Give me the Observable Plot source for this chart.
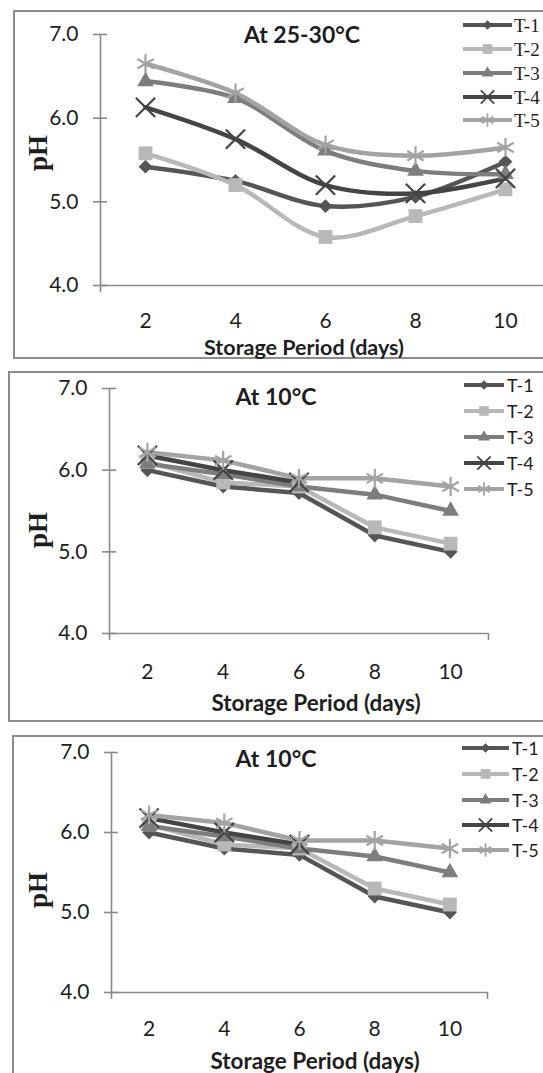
<!DOCTYPE html>
<html><head><meta charset="utf-8">
<script src="https://cdn.jsdelivr.net/npm/d3@7"></script>
<script src="https://cdn.jsdelivr.net/npm/@observablehq/plot@0.6"></script>
<style>
html,body{margin:0;padding:0;background:#fff;}
#page{position:relative;width:543px;height:1073px;overflow:hidden;background:#fff;}
.box{position:absolute;border:2px solid #8c8c8c;box-sizing:border-box;}
</style></head>
<body><div id="page"></div>
<script>
// ---------- data ----------
const days = [2, 4, 6, 8, 10];
const seriesNames = ["T-1", "T-2", "T-3", "T-4", "T-5"];
const yTicks = [4, 5, 6, 7];
const panelTitles = ["At 25-30°C", "At 10°C", "At 10°C"];
const xTitle = "Storage Period (days)";
const yTitle = "pH";

// At 25-30°C
const warmT1 = [5.42, 5.25, 4.95, 5.06, 5.48];
const warmT2 = [5.58, 5.20, 4.58, 4.83, 5.15];
const warmT3 = [6.44, 6.24, 5.61, 5.37, 5.33];
const warmT4 = [6.13, 5.75, 5.20, 5.10, 5.28];
const warmT5 = [6.65, 6.30, 5.68, 5.55, 5.65];
// At 10°C
const coldT1 = [6.00, 5.80, 5.72, 5.20, 5.00];
const coldT2 = [6.10, 5.85, 5.80, 5.30, 5.10];
const coldT3 = [6.08, 5.95, 5.80, 5.70, 5.50];
const coldT4 = [6.18, 6.00, 5.85, null, null];
const coldT5 = [6.22, 6.12, 5.90, 5.90, 5.80];

// ---------- styles ----------
const colors = ["#555555", "#b8b8b8", "#7d7d7d", "#444444", "#a3a3a3"];
const symbols = ["diamond2", "square", "triangle", "times", "asterisk"];
const filled = [true, true, true, false, false];
const radii = [6.2, 7.8, 6.2, 8.8, 9.0];
const axisColor = "#8a8a8a";
const textColor = "#1e1e1e";
const sansFont = "Lato, 'Open Sans', sans-serif";
const serifFont = "'Liberation Serif', 'DejaVu Serif', serif";

const panels = [
  {values: [warmT1, warmT2, warmT3, warmT4, warmT5], curve: "catmull-rom",
   top: 0, width: 600, marginLeft: 100, marginRight: 50, marginTop: 34, height: 355, marginBottom: 70,
   box: [13, 10, 600, 349], title: [302, 34], xt: [304, 347], xtSize: 21.5, yt: [38, 153], tickPad: 28,
   leg: {x0: 463, x1: 512, tx: 514, ys: [25, 49, 73, 97, 120], font: serifFont, size: 19}},
  {values: [coldT1, coldT2, coldT3, coldT4, coldT5], curve: "linear",
   top: 371, width: 543, marginLeft: 109, marginRight: 55, marginTop: 17, height: 347, marginBottom: 85,
   box: [8, 371, 600, 351], title: [276, 396], xt: [316, 702], xtSize: 22.5, yt: [38, 530], tickPad: 31,
   leg: {x0: 464, x1: 504, tx: 507, ys: [385, 411, 437, 463, 489], font: sansFont, size: 18}},
  {values: [coldT1, coldT2, coldT3, coldT4, coldT5], curve: "linear",
   top: 735, width: 543, marginLeft: 111, marginRight: 56, marginTop: 17, height: 338, marginBottom: 81,
   box: [12, 735, 600, 400], title: [276, 758], xt: [315, 1060], xtSize: 22.5, yt: [38, 890], tickPad: 29,
   leg: {x0: 462, x1: 509, tx: 512, ys: [748, 774, 800, 825, 850], font: sansFont, size: 18}}
];

const page = document.getElementById("page");

panels.forEach((p) => {
  const box = document.createElement("div");
  box.className = "box";
  box.style.left = p.box[0] + "px"; box.style.top = p.box[1] + "px";
  box.style.width = p.box[2] + "px"; box.style.height = p.box[3] + "px";
  page.appendChild(box);
});

panels.forEach((p, pi) => {
  const rows = [];
  seriesNames.forEach((s, i) => days.forEach((d, j) => rows.push({series: s, day: d, ph: p.values[i][j]})));
  const dotMarks = seriesNames.map((s, i) => Plot.dot(rows.filter(r => r.series === s && r.ph != null), {
    x: "day", y: "ph", symbol: symbols[i], r: radii[i],
    fill: filled[i] ? colors[i] : "none",
    stroke: filled[i] ? "none" : colors[i], strokeWidth: 2.2
  }));
  const chart = Plot.plot({
    width: p.width, height: p.height,
    marginLeft: p.marginLeft, marginRight: p.marginRight, marginTop: p.marginTop, marginBottom: p.marginBottom,
    style: {background: "transparent", fontFamily: sansFont, color: textColor, maxWidth: "none", overflow: "visible"},
    x: {type: "linear", domain: [1, 11], axis: null},
    y: {type: "linear", domain: [4, 7], axis: null},
    color: {domain: seriesNames, range: colors},
    marks: [
      Plot.ruleY([4], {stroke: axisColor, strokeWidth: 1.6}),
      Plot.ruleX([1], {y1: 4, y2: 7, stroke: axisColor, strokeWidth: 1.6}),
      Plot.axisY({ticks: yTicks, tickSize: 7, tickPadding: 15, tickFormat: d3.format(".1f"),
                  fontSize: 21, stroke: axisColor, strokeWidth: 1.6, label: null}),
      Plot.axisY({ticks: yTicks, tickSize: 7, dx: 7, tickFormat: () => "", stroke: axisColor, strokeWidth: 1.6, label: null}),
      Plot.axisX({ticks: [1, 11], tickSize: 7, tickFormat: () => "", stroke: axisColor, strokeWidth: 1.6, label: null}),
      Plot.axisX({ticks: days, tickSize: 0, tickPadding: p.tickPad, fontSize: 21, label: null}),
      Plot.line(rows, {x: "day", y: "ph", z: "series", stroke: "series", strokeWidth: 4.5, curve: p.curve}),
      ...dotMarks
    ]
  });
  chart.style.position = "absolute";
  chart.style.left = "0px";
  chart.style.top = p.top + "px";
  page.appendChild(chart);
});

// ---------- overlay: titles, axis titles, legends ----------
const symbolMap = {diamond2: d3.symbolDiamond2, square: d3.symbolSquare, triangle: d3.symbolTriangle,
                   times: d3.symbolTimes, asterisk: d3.symbolAsterisk};
const overlay = d3.select(page).append("svg")
  .attr("width", 543).attr("height", 1073)
  .style("position", "absolute").style("left", "0px").style("top", "0px");

panels.forEach((p, pi) => {
  overlay.append("text").attr("x", p.title[0]).attr("y", p.title[1])
    .attr("text-anchor", "middle").attr("dominant-baseline", "central")
    .attr("font-family", sansFont).attr("font-weight", "bold").attr("font-size", 23)
    .attr("fill", textColor).text(panelTitles[pi]);
  overlay.append("text").attr("x", p.xt[0]).attr("y", p.xt[1])
    .attr("text-anchor", "middle").attr("dominant-baseline", "central")
    .attr("font-family", sansFont).attr("font-weight", "bold").attr("font-size", p.xtSize)
    .attr("fill", textColor).text(xTitle);
  overlay.append("text")
    .attr("transform", `translate(${p.yt[0]},${p.yt[1]}) rotate(-90)`)
    .attr("text-anchor", "middle").attr("dominant-baseline", "central")
    .attr("font-family", serifFont).attr("font-weight", "bold").attr("font-size", 27)
    .attr("fill", textColor).text(yTitle);
  const L = p.leg;
  seriesNames.forEach((s, i) => {
    const y = L.ys[i];
    overlay.append("line").attr("x1", L.x0).attr("x2", L.x1).attr("y1", y).attr("y2", y)
      .attr("stroke", colors[i]).attr("stroke-width", 4);
    const r = radii[i] * 0.7;
    overlay.append("path")
      .attr("d", d3.symbol(symbolMap[symbols[i]], Math.PI * r * r)())
      .attr("transform", `translate(${(L.x0 + L.x1) / 2},${y})`)
      .attr("fill", filled[i] ? colors[i] : "none")
      .attr("stroke", filled[i] ? "none" : colors[i]).attr("stroke-width", 1.8);
    overlay.append("text").attr("x", L.tx).attr("y", y).attr("dominant-baseline", "central")
      .attr("font-family", L.font).attr("font-size", L.size).attr("fill", textColor).text(s);
  });
});
</script>
</body></html>
